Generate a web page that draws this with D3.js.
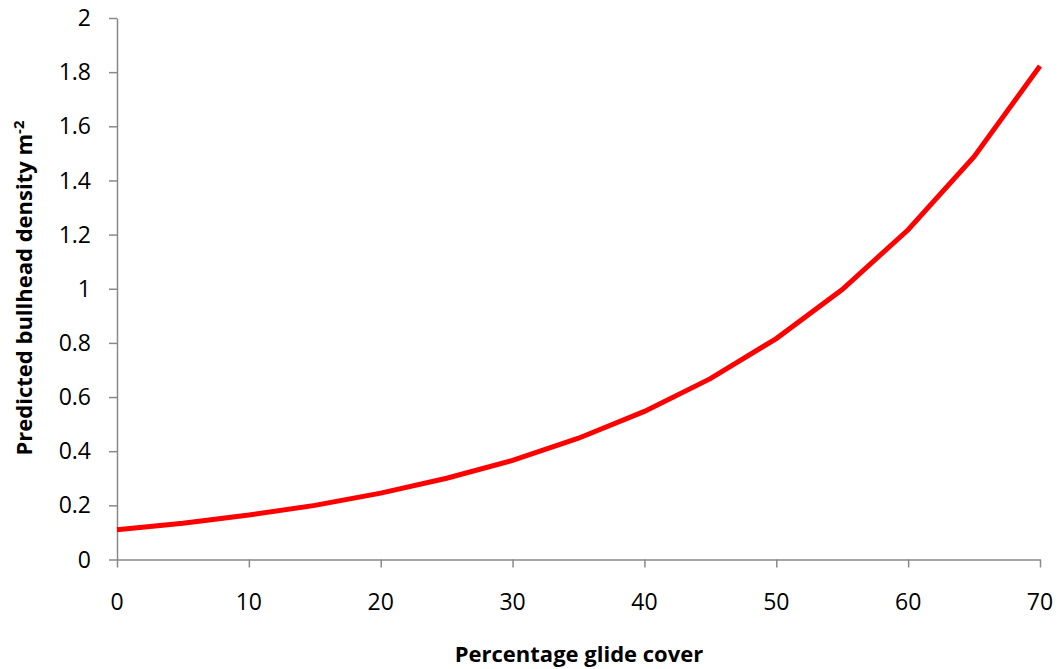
<!DOCTYPE html>
<html><head><meta charset="utf-8">
<script src="https://cdn.jsdelivr.net/npm/d3@7"></script>
<style>body{margin:0;background:#fff}svg{display:block}</style>
</head><body>
<script>
const coverPct = [0,5,10,15,20,25,30,35,40,45,50,55,60,65,70];
const density = [0.11,0.134,0.164,0.2,0.245,0.30,0.366,0.448,0.547,0.668,0.816,0.997,1.218,1.488,1.823];
const xTicks = [0,10,20,30,40,50,60,70];
const yTicks = [0,0.2,0.4,0.6,0.8,1,1.2,1.4,1.6,1.8,2];

const W=1060,H=669;
const svg=d3.select("body").append("svg").attr("width",W).attr("height",H);
const x=d3.scaleLinear().domain([0,70]).range([117,1040]);
const y=d3.scaleLinear().domain([0,2]).range([559.5,18]);
const font="'Open Sans', sans-serif";

const xa=svg.append("g").attr("transform","translate(0,559.5)")
  .call(d3.axisBottom(x).tickValues(xTicks).tickFormat(()=>"").tickSize(8).tickSizeOuter(0));
const ya=svg.append("g").attr("transform","translate(117,0)")
  .call(d3.axisLeft(y).tickValues(yTicks).tickFormat(()=>"").tickSize(8).tickSizeOuter(0));
[xa,ya].forEach(a=>{
  a.selectAll("path,line").attr("stroke","#898989").attr("stroke-width",1.5);
});

svg.append("g").selectAll("text").data(xTicks).join("text")
  .attr("x",d=>x(d)).attr("y",610).attr("text-anchor","middle")
  .style("font-family",font).style("font-size","23px").attr("fill","#000")
  .text(d=>d);
svg.append("g").selectAll("text").data(yTicks).join("text")
  .attr("x",91).attr("y",d=>y(d)).attr("dy","0.35em").attr("text-anchor","end")
  .style("font-family",font).style("font-size","23px").attr("fill","#000")
  .text(d=>String(+d.toFixed(1)));

svg.append("path").datum(coverPct.map((c,i)=>[c,density[i]]))
  .attr("fill","none").attr("stroke","#ff0000").attr("stroke-width",5)
  .attr("d",d3.line().x(d=>x(d[0])).y(d=>y(d[1])));

svg.append("text").attr("x",579).attr("y",662).attr("text-anchor","middle")
  .style("font-family",font).style("font-size","22px").style("font-weight","bold")
  .text("Percentage glide cover");
const yt=svg.append("text").attr("transform","translate(32,288) rotate(-90)").attr("text-anchor","middle")
  .style("font-family",font).style("font-size","22px").style("font-weight","bold");
yt.append("tspan").text("Predicted bullhead density m");
yt.append("tspan").attr("dy",-8).style("font-size","15px").text("-2");
</script>
</body></html>
